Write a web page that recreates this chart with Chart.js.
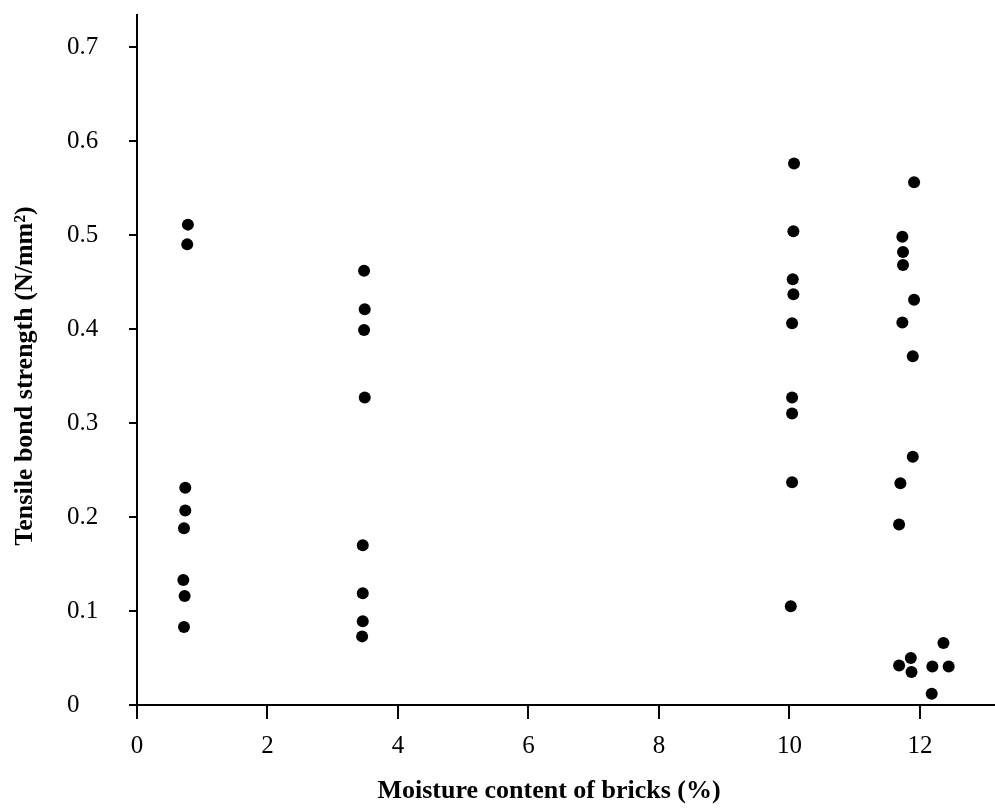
<!DOCTYPE html>
<html>
<head>
<meta charset="utf-8">
<script src="https://cdn.jsdelivr.net/npm/chart.js@4/dist/chart.umd.min.js"></script>
<style>
html, body { margin: 0; padding: 0; background: #fff; }
</style>
</head>
<body>
<canvas id="chart" width="995" height="809"></canvas>
<script>
// moisture content (%) and tensile bond strength (N/mm2), one pair of arrays per brick batch
var moisture1 = [0.78, 0.77, 0.74, 0.74, 0.72, 0.71, 0.73, 0.72];
var strength1 = [0.511, 0.490, 0.231, 0.207, 0.188, 0.133, 0.116, 0.083];

var moisture2 = [3.48, 3.49, 3.48, 3.49, 3.46, 3.46, 3.46, 3.45];
var strength2 = [0.462, 0.421, 0.399, 0.327, 0.170, 0.119, 0.089, 0.073];

var moisture3 = [10.07, 10.06, 10.05, 10.06, 10.04, 10.04, 10.04, 10.04, 10.02];
var strength3 = [0.576, 0.504, 0.453, 0.437, 0.406, 0.327, 0.310, 0.237, 0.105];

var moisture4 = [11.91, 11.73, 11.74, 11.74, 11.91, 11.73, 11.89, 11.89, 11.70, 11.68,
                 12.36, 11.68, 11.86, 11.87, 12.19, 12.44, 12.18];
var strength4 = [0.556, 0.498, 0.482, 0.468, 0.431, 0.407, 0.371, 0.264, 0.236, 0.192,
                 0.066, 0.042, 0.050, 0.035, 0.041, 0.041, 0.012];

var xTicks = [0, 2, 4, 6, 8, 10, 12];
var yTicks = [0, 0.1, 0.2, 0.3, 0.4, 0.5, 0.6, 0.7];
var yTickLabels = ['0', '0.1', '0.2', '0.3', '0.4', '0.5', '0.6', '0.7'];

var xTitle = 'Moisture content of bricks (%)';
var yTitle = 'Tensile bond strength (N/mm\u00B2)';

var serif = '"Liberation Serif", "Times New Roman", serif';


function toPoints(xs, ys) {
    var pts = [];
    for (var i = 0; i < xs.length; i++) {
        pts.push({x: xs[i], y: ys[i]});
    }
    return pts;
}

function dotSet(xs, ys) {
    return {
        data: toPoints(xs, ys),
        pointRadius: 6,
        pointHoverRadius: 6,
        pointBackgroundColor: '#000',
        pointBorderWidth: 0,
        showLine: false
    };
}

// axis titles drawn by hand: the y tick labels sit left-aligned, and the
// x title is not centred on the axis in the original
var axisTitles = {
    id: 'axisTitles',
    afterDraw: function(chart) {
        var c = chart.ctx;
        c.save();
        c.font = 'bold 26px ' + serif;
        c.fillStyle = '#000';
        c.textAlign = 'center';
        c.textBaseline = 'middle';
        c.fillText(xTitle, 549, 791);
        c.translate(25, 376);
        c.rotate(-Math.PI / 2);
        c.fillText(yTitle, 0, 0);
        c.restore();
    }
};

var chart = new Chart(document.getElementById('chart').getContext('2d'), {
    type: 'scatter',
    data: {
        datasets: [
            dotSet(moisture1, strength1),
            dotSet(moisture2, strength2),
            dotSet(moisture3, strength3),
            dotSet(moisture4, strength4)
        ]
    },
    options: {
        responsive: false,
        animation: false,
        layout: { autoPadding: false, padding: { left: 67, top: 12, right: 0, bottom: 0 } },
        plugins: {
            legend: { display: false },
            tooltip: { enabled: false }
        },
        scales: {
            x: {
                type: 'linear',
                min: 0,
                max: 13.15,
                afterBuildTicks: function(s) {
                    s.ticks = xTicks.map(function(v) { return {value: v}; });
                },
                afterFit: function(s) { s.height = 104; },
                border: { color: '#000', width: 2 },
                grid: { drawOnChartArea: false, drawTicks: true, tickLength: 14, color: '#000', lineWidth: 2 },
                ticks: {
                    padding: 12,
                    color: '#000',
                    maxRotation: 0,
                    font: { family: serif, size: 25 },
                    callback: function(v) { return String(v); }
                }
            },
            y: {
                type: 'linear',
                min: 0,
                max: 0.734,
                afterBuildTicks: function(s) {
                    s.ticks = yTicks.map(function(v) { return {value: v}; });
                },
                afterFit: function(s) { s.width = 70; },
                border: { color: '#000', width: 2 },
                grid: { drawOnChartArea: false, drawTicks: true, tickLength: 8, color: '#000', lineWidth: 2 },
                ticks: {
                    crossAlign: 'far',
                    padding: 0,
                    color: '#000',
                    font: { family: serif, size: 25 },
                    callback: function(v, i) { return yTickLabels[i]; }
                }
            }
        }
    },
    plugins: [axisTitles]
});
</script>
</body>
</html>
